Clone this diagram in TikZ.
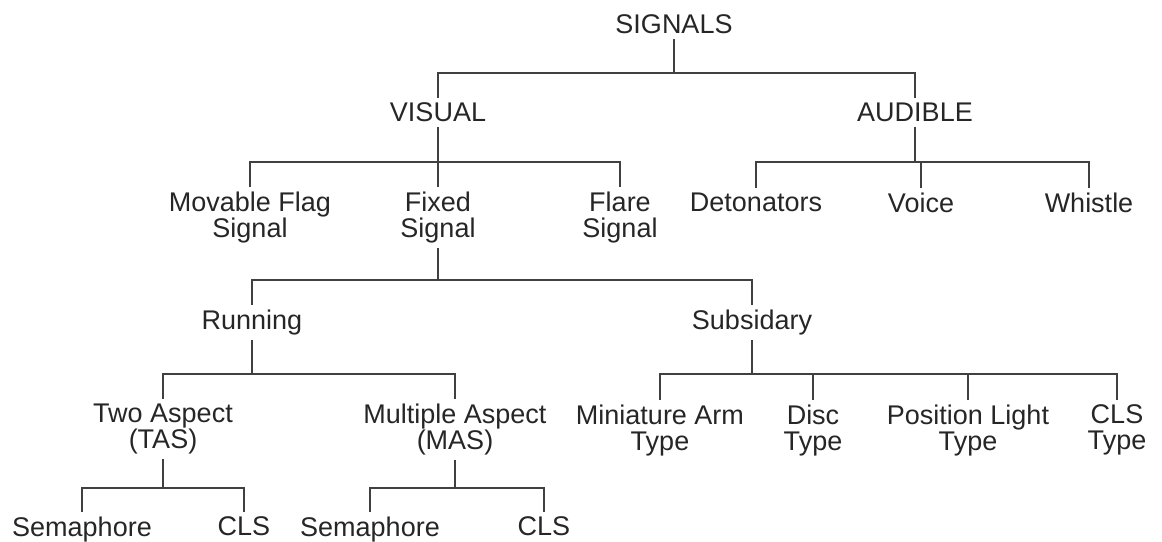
\documentclass[tikz,border=0pt]{standalone}
\usepackage{fontspec}
\setmainfont{Liberation Sans}
\begin{document}
\begin{tikzpicture}[x=0.5pt,y=-0.5pt,
	lbl/.style={anchor=north,inner sep=0pt,outer ysep=2.5pt,align=center,
		font=\fontsize{13.5}{13}\selectfont,text=black!85},
	conn/.style={line width=1pt,draw=black!75}]
	\useasboundingbox (0,0) rectangle (1162,541);
	\node[lbl] (sig) at (674,10) {SIGNALS};
	\node[lbl] (vis) at (438,98) {VISUAL};
	\node[lbl] (aud) at (915,98) {AUDIBLE};
	\node[lbl] (flag) at (250,187) {Movable Flag\\Signal};
	\node[lbl] (fix) at (438,187) {Fixed\\Signal};
	\node[lbl] (flare) at (620,187) {Flare\\Signal};
	\node[lbl] (det) at (756,188) {Detonators};
	\node[lbl] (voi) at (921,188) {Voice};
	\node[lbl] (whi) at (1089,188) {Whistle};
	\node[lbl] (run) at (252,305) {Running};
	\node[lbl] (sub) at (752,305) {Subsidary};
	\node[lbl] (tas) at (163,399) {Two Aspect\\(TAS)};
	\node[lbl] (mas) at (455,399) {Multiple Aspect\\(MAS)};
	\node[lbl] (mini) at (660,400) {Miniature Arm\\Type};
	\node[lbl] (disc) at (813,400) {Disc\\Type};
	\node[lbl] (pos) at (968,400) {Position Light\\Type};
	\node[lbl] (clst) at (1117,400) {CLS\\Type};
	\node[lbl] (sema) at (82,512) {Semaphore};
	\node[lbl] (clsa) at (244,512) {CLS};
	\node[lbl] (semb) at (370,512) {Semaphore};
	\node[lbl] (clsb) at (544,512) {CLS};
	\coordinate (b1) at (0,73);
	\coordinate (b2) at (0,162);
	\coordinate (b3) at (0,280);
	\coordinate (b4) at (0,374);
	\coordinate (b5) at (0,488);
	\foreach \c in {vis,aud}
		\draw[conn] (sig.south) |- (\c.north |- b1) -- (\c.north);
	\foreach \c in {flag,fix,flare}
		\draw[conn] (vis.south) |- (\c.north |- b2) -- (\c.north);
	\foreach \c in {det,voi,whi}
		\draw[conn] (aud.south) |- (\c.north |- b2) -- (\c.north);
	\foreach \c in {run,sub}
		\draw[conn] (fix.south) |- (\c.north |- b3) -- (\c.north);
	\foreach \c in {tas,mas}
		\draw[conn] (run.south) |- (\c.north |- b4) -- (\c.north);
	\foreach \c in {mini,disc,pos,clst}
		\draw[conn] (sub.south) |- (\c.north |- b4) -- (\c.north);
	\foreach \c in {sema,clsa}
		\draw[conn] (tas.south) |- (\c.north |- b5) -- (\c.north);
	\foreach \c in {semb,clsb}
		\draw[conn] (mas.south) |- (\c.north |- b5) -- (\c.north);
\end{tikzpicture}
\end{document}
